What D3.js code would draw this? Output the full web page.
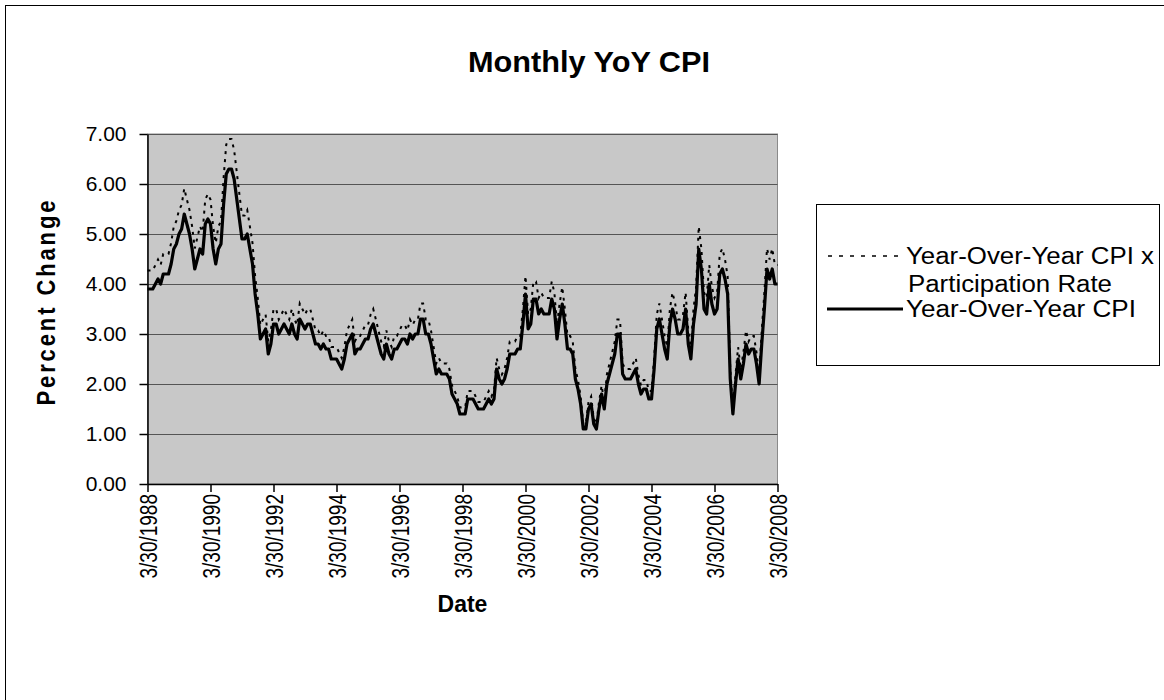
<!DOCTYPE html>
<html>
<head>
<meta charset="utf-8">
<script src="https://cdn.jsdelivr.net/npm/d3@7"></script>
<style>
  body { margin: 0; background: #fff; }
  text { font-family: "Liberation Sans", Arial, sans-serif; }
</style>
</head>
<body>
<div id="chart"></div>
<script>
var svgWidth = 1164, svgHeight = 700;

// x categories: one point per month, 3/30/1988 .. 3/30/2008 (241 months)
var tickLabels = ["3/30/1988", "3/30/1990", "3/30/1992", "3/30/1994", "3/30/1996", "3/30/1998",
                  "3/30/2000", "3/30/2002", "3/30/2004", "3/30/2006", "3/30/2008"];
var yTicks = [0, 1, 2, 3, 4, 5, 6, 7];

// Year-Over-Year CPI (monthly)
var cpi = [
  3.9, 3.9, 3.9, 4.0, 4.1, 4.0, 4.2, 4.2, 4.2, 4.4,                    // 1988 Mar-Dec
  4.7, 4.8, 5.0, 5.1, 5.4, 5.2, 5.0, 4.7, 4.3, 4.5, 4.7, 4.6,          // 1989
  5.2, 5.3, 5.2, 4.7, 4.4, 4.7, 4.8, 5.6, 6.2, 6.3, 6.3, 6.1,          // 1990
  5.7, 5.3, 4.9, 4.9, 5.0, 4.7, 4.4, 3.8, 3.4, 2.9, 3.0, 3.1,          // 1991
  2.6, 2.8, 3.2, 3.2, 3.0, 3.1, 3.2, 3.1, 3.0, 3.2, 3.0, 2.9,          // 1992
  3.3, 3.2, 3.1, 3.2, 3.2, 3.0, 2.8, 2.8, 2.7, 2.8, 2.7, 2.7,          // 1993
  2.5, 2.5, 2.5, 2.4, 2.3, 2.5, 2.8, 2.9, 3.0, 2.6, 2.7, 2.7,          // 1994
  2.8, 2.9, 2.9, 3.1, 3.2, 3.0, 2.8, 2.6, 2.5, 2.8, 2.6, 2.5,          // 1995
  2.7, 2.7, 2.8, 2.9, 2.9, 2.8, 3.0, 2.9, 3.0, 3.0, 3.3, 3.3,          // 1996
  3.0, 3.0, 2.8, 2.5, 2.2, 2.3, 2.2, 2.2, 2.2, 2.1, 1.8, 1.7,          // 1997
  1.6, 1.4, 1.4, 1.4, 1.7, 1.7, 1.7, 1.6, 1.5, 1.5, 1.5, 1.6,          // 1998
  1.7, 1.6, 1.7, 2.3, 2.1, 2.0, 2.1, 2.3, 2.6, 2.6, 2.6, 2.7,          // 1999
  2.7, 3.2, 3.8, 3.1, 3.2, 3.7, 3.7, 3.4, 3.5, 3.4, 3.4, 3.4,          // 2000
  3.7, 3.5, 2.9, 3.3, 3.6, 3.2, 2.7, 2.7, 2.6, 2.1, 1.9, 1.6,          // 2001
  1.1, 1.1, 1.5, 1.6, 1.2, 1.1, 1.5, 1.8, 1.5, 2.0, 2.2, 2.4,          // 2002
  2.6, 3.0, 3.0, 2.2, 2.1, 2.1, 2.1, 2.2, 2.3, 2.0, 1.8, 1.9,          // 2003
  1.9, 1.7, 1.7, 2.3, 3.1, 3.3, 3.0, 2.7, 2.5, 3.2, 3.5, 3.3,          // 2004
  3.0, 3.0, 3.1, 3.5, 2.8, 2.5, 3.2, 3.6, 4.7, 4.3, 3.5, 3.4,          // 2005
  4.0, 3.6, 3.4, 3.5, 4.2, 4.3, 4.1, 3.8, 2.1, 1.4, 2.0, 2.5,          // 2006
  2.1, 2.4, 2.8, 2.6, 2.7, 2.7, 2.4, 2.0, 2.8, 3.5, 4.3, 4.1,          // 2007
  4.3, 4.0, 4.0                                                        // 2008 Jan-Mar
];

// Year-Over-Year CPI x Participation Rate
var cpiPart = [
  4.27, 4.27, 4.27, 4.38, 4.49, 4.38, 4.60, 4.60, 4.60, 4.82,
  5.15, 5.26, 5.48, 5.58, 5.91, 5.69, 5.48, 5.15, 4.71, 4.93, 5.15, 5.04,
  5.69, 5.80, 5.69, 5.15, 4.82, 5.15, 5.26, 6.13, 6.79, 6.90, 6.90, 6.68,
  6.24, 5.80, 5.37, 5.37, 5.48, 5.15, 4.82, 4.16, 3.72, 3.18, 3.29, 3.39,
  2.85, 3.07, 3.50, 3.50, 3.29, 3.39, 3.50, 3.39, 3.29, 3.50, 3.29, 3.18,
  3.61, 3.50, 3.39, 3.50, 3.50, 3.29, 3.07, 3.07, 2.96, 3.07, 2.96, 2.96,
  2.74, 2.74, 2.74, 2.63, 2.52, 2.74, 3.07, 3.18, 3.29, 2.85, 2.96, 2.96,
  3.07, 3.18, 3.18, 3.39, 3.50, 3.29, 3.07, 2.85, 2.74, 3.07, 2.85, 2.74,
  2.96, 2.96, 3.07, 3.18, 3.18, 3.07, 3.29, 3.18, 3.29, 3.29, 3.61, 3.61,
  3.29, 3.29, 3.07, 2.74, 2.41, 2.52, 2.41, 2.41, 2.41, 2.30, 1.97, 1.86,
  1.75, 1.53, 1.53, 1.53, 1.86, 1.86, 1.86, 1.75, 1.64, 1.64, 1.64, 1.75,
  1.86, 1.75, 1.86, 2.52, 2.30, 2.19, 2.30, 2.52, 2.85, 2.85, 2.85, 2.96,
  2.96, 3.50, 4.16, 3.39, 3.50, 4.05, 4.05, 3.72, 3.83, 3.72, 3.72, 3.72,
  4.05, 3.83, 3.18, 3.61, 3.94, 3.50, 2.96, 2.96, 2.85, 2.30, 2.08, 1.75,
  1.20, 1.20, 1.64, 1.75, 1.31, 1.20, 1.64, 1.97, 1.64, 2.19, 2.41, 2.63,
  2.85, 3.29, 3.29, 2.41, 2.30, 2.30, 2.30, 2.41, 2.52, 2.19, 1.97, 2.08,
  2.08, 1.86, 1.86, 2.52, 3.39, 3.61, 3.29, 2.96, 2.74, 3.50, 3.83, 3.61,
  3.29, 3.29, 3.39, 3.83, 3.07, 2.74, 3.50, 3.94, 5.15, 4.71, 3.83, 3.72,
  4.38, 3.94, 3.72, 3.83, 4.60, 4.71, 4.49, 4.16, 2.30, 1.53, 2.19, 2.74,
  2.30, 2.63, 3.07, 2.85, 2.96, 2.96, 2.63, 2.19, 3.07, 3.83, 4.71, 4.49,
  4.71, 4.38, 4.38
];

var seriesNames = ["Year-Over-Year CPI x", "Participation Rate", "Year-Over-Year CPI"];

var plot = {left: 147.5, right: 777.5, top: 134, bottom: 484};

var svg = d3.select("#chart")
  .append("svg")
  .attr("width", svgWidth)
  .attr("height", svgHeight);

svg.append("rect")
  .attr("width", svgWidth)
  .attr("height", svgHeight)
  .attr("fill", "#fff");

// chart area border (only top and left edges fall inside the picture)
svg.append("rect")
  .attr("x", 5.5)
  .attr("y", 5.5)
  .attr("width", svgWidth + 20)
  .attr("height", svgHeight + 20)
  .attr("fill", "none")
  .attr("stroke", "#000")
  .attr("stroke-width", 1);

var x = d3.scaleLinear()
  .domain([0, cpi.length - 1])
  .range([plot.left, plot.right]);

var y = d3.scaleLinear()
  .domain([0, 7])
  .range([plot.bottom, plot.top]);

// plot area
svg.append("rect")
  .attr("x", plot.left)
  .attr("y", plot.top)
  .attr("width", plot.right - plot.left)
  .attr("height", plot.bottom - plot.top)
  .attr("fill", "#c8c8c8")
  .attr("stroke", "#8a8a8a")
  .attr("stroke-width", 1);

// gridlines
svg.append("g")
  .selectAll("line")
  .data(yTicks.slice(1))
  .enter()
  .append("line")
  .attr("x1", plot.left)
  .attr("x2", plot.right)
  .attr("y1", d => Math.round(y(d)) + 0.5)
  .attr("y2", d => Math.round(y(d)) + 0.5)
  .attr("stroke", "#555")
  .attr("stroke-width", 1);

// axes
var tickIdx = tickLabels.map((d, i) => i * 24);

var xAxis = d3.axisBottom(x)
  .tickValues(tickIdx)
  .tickFormat((d, i) => tickLabels[i])
  .tickSize(8)
  .tickSizeOuter(0);

var gx = svg.append("g")
  .attr("transform", "translate(0," + plot.bottom + ")")
  .call(xAxis);
gx.select(".domain").attr("stroke", "#000").attr("stroke-width", 1.5);
gx.selectAll(".tick line").attr("stroke", "#000").attr("stroke-width", 1.5);
gx.selectAll(".tick text")
  .attr("font-size", 19)
  .attr("font-family", "Liberation Sans, Arial, sans-serif")
  .attr("fill", "#000")
  .attr("text-anchor", "end")
  .attr("transform", "rotate(-90) scale(1,1.25)")
  .attr("x", -10)
  .attr("y", 0)
  .attr("dy", "0.36em");

var yAxis = d3.axisLeft(y)
  .tickValues(yTicks)
  .tickFormat(d3.format(".2f"))
  .tickSize(8)
  .tickSizeOuter(0);

var gy = svg.append("g")
  .attr("transform", "translate(" + plot.left + ",0)")
  .call(yAxis);
gy.select(".domain").attr("stroke", "#000").attr("stroke-width", 1.5);
gy.selectAll(".tick line").attr("stroke", "#000").attr("stroke-width", 1.5);
gy.selectAll(".tick text")
  .attr("font-size", 21)
  .attr("font-family", "Liberation Sans, Arial, sans-serif")
  .attr("fill", "#000")
  .attr("x", -21);

// lines
var line = d3.line()
  .x((d, i) => x(i))
  .y(d => y(d));

svg.append("path")
  .datum(cpiPart)
  .attr("d", line)
  .attr("fill", "none")
  .attr("stroke", "#000")
  .attr("stroke-width", 2)
  .attr("stroke-dasharray", "3,5");

svg.append("path")
  .datum(cpi)
  .attr("d", line)
  .attr("fill", "none")
  .attr("stroke", "#000")
  .attr("stroke-width", 3.2)
  .attr("stroke-linejoin", "round");

// titles
svg.append("text")
  .attr("x", 589)
  .attr("y", 72)
  .attr("text-anchor", "middle")
  .attr("font-size", 30)
  .attr("font-weight", "bold")
  .attr("textLength", 242)
  .attr("lengthAdjust", "spacingAndGlyphs")
  .text("Monthly YoY CPI");

svg.append("text")
  .attr("x", (plot.left + plot.right) / 2)
  .attr("y", 612)
  .attr("text-anchor", "middle")
  .attr("font-size", 23)
  .attr("font-weight", "bold")
  .text("Date");

svg.append("text")
  .attr("transform", "translate(55,303) rotate(-90) scale(1,1.15)")
  .attr("text-anchor", "middle")
  .attr("font-size", 22)
  .attr("font-weight", "bold")
  .attr("textLength", 205)
  .attr("lengthAdjust", "spacing")
  .text("Percent Change");

// legend
var legend = svg.append("g");

legend.append("rect")
  .attr("x", 816.5)
  .attr("y", 204.5)
  .attr("width", 343)
  .attr("height", 161)
  .attr("fill", "#fff")
  .attr("stroke", "#000")
  .attr("stroke-width", 1);

legend.append("line")
  .attr("x1", 828).attr("x2", 903)
  .attr("y1", 256).attr("y2", 256)
  .attr("stroke", "#000")
  .attr("stroke-width", 1.5)
  .attr("stroke-dasharray", "4,7");

legend.append("line")
  .attr("x1", 827).attr("x2", 903)
  .attr("y1", 309).attr("y2", 309)
  .attr("stroke", "#000")
  .attr("stroke-width", 3.2);

var legendLen = [248, 204, 230];

legend.selectAll("text.leg")
  .data(seriesNames)
  .enter()
  .append("text")
  .attr("class", "leg")
  .attr("x", (d, i) => i == 1 ? 908 : 906)
  .attr("y", (d, i) => [264, 292, 317][i])
  .attr("font-size", 23)
  .attr("fill", "#000")
  .attr("textLength", (d, i) => legendLen[i])
  .attr("lengthAdjust", "spacingAndGlyphs")
  .text(d => d);
</script>
</body>
</html>
